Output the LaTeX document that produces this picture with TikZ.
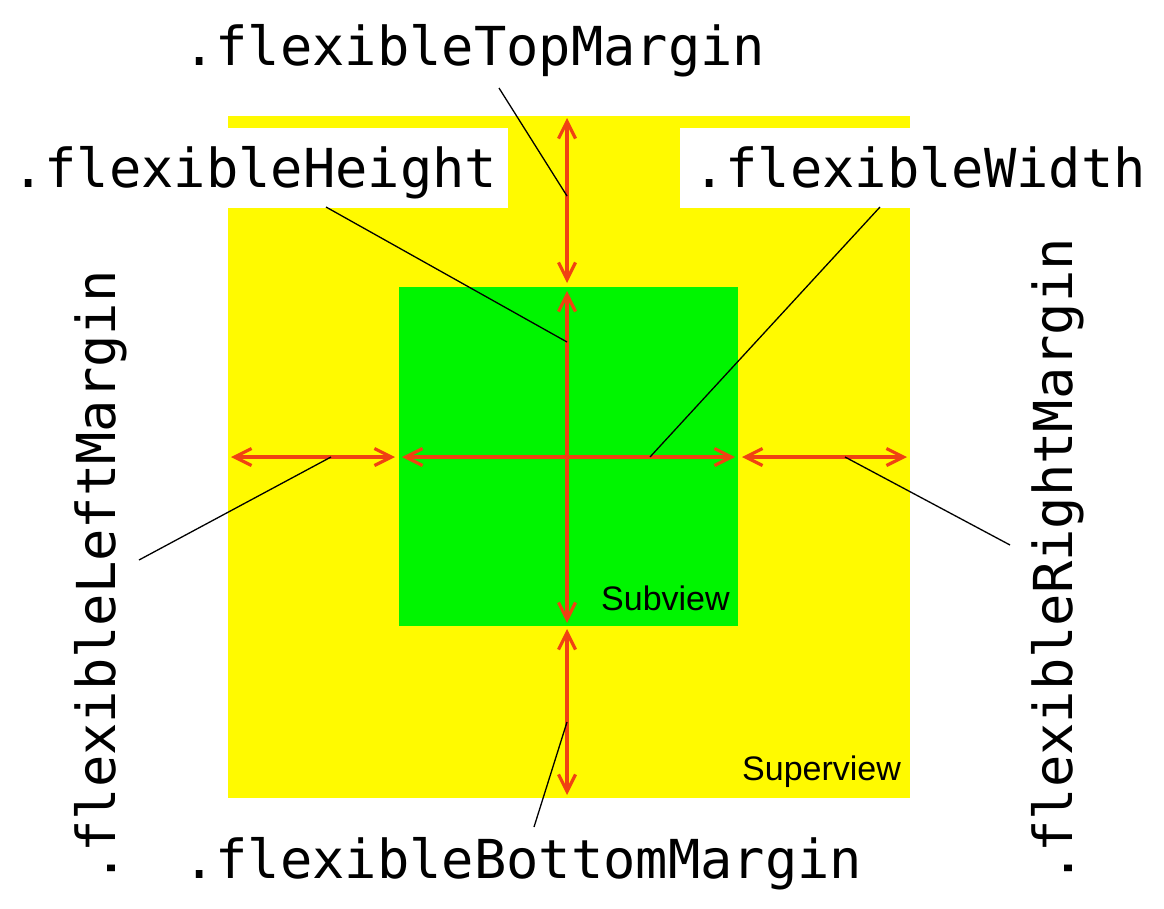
\documentclass[tikz,border=0pt]{standalone}
\usepackage{fontspec}
\setmonofont{DejaVu Sans Mono}
\newfontfamily\labelsans{Liberation Sans}
\usetikzlibrary{arrows.meta}
\definecolor{arrowred}{RGB}{240,66,18}
\definecolor{supyellow}{RGB}{255,250,0}
\definecolor{subgreen}{RGB}{0,245,0}
\tikzset{
  code/.style={inner sep=0pt, anchor=base west, font=\ttfamily\fontsize{53.7pt}{60pt}\selectfont},
  viewlabel/.style={inner sep=0pt, anchor=base west, font=\labelsans\fontsize{34pt}{40pt}\selectfont},
  dim/.style={draw=arrowred, line width=3.2pt, {Straight Barb[length=17pt,width=17pt,line width=3.2pt]}-{Straight Barb[length=17pt,width=17pt,line width=3.2pt]}},
  leader/.style={draw=black, line width=1.3pt}
}
\begin{document}
\begin{tikzpicture}[x=1pt,y=-1pt]
\useasboundingbox (0,0) rectangle (1164,908);
% views
\node[fill=supyellow, inner sep=0pt, outer sep=0pt, minimum width=682pt, minimum height=682pt, anchor=north west] (sup) at (228,116) {};
\fill[white] (0,128) rectangle (508,208);
\fill[white] (680,128) rectangle (940,208);
\node[fill=subgreen, inner sep=0pt, outer sep=0pt, minimum width=339pt, minimum height=339pt, anchor=north west] (sub) at (399,287) {};
\node[viewlabel] (subl) at (601,610) {Subview};
\node[viewlabel] (supl) at (742,780) {Superview};
% arrow end points
\coordinate (t1) at (567,118); \coordinate (t2) at (567,283);
\coordinate (h1) at (567,291); \coordinate (h2) at (567,623);
\coordinate (b1) at (567,629); \coordinate (b2) at (567,795);
\coordinate (l1) at (231,457); \coordinate (l2) at (395,457);
\coordinate (w1) at (402,457); \coordinate (w2) at (735,457);
\coordinate (r1) at (742,457); \coordinate (r2) at (907,457);
\draw[dim] (t1) -- (t2);
\draw[dim] (h1) -- (h2);
\draw[dim] (b1) -- (b2);
\draw[dim] (l1) -- (l2);
\draw[dim] (w1) -- (w2);
\draw[dim] (r1) -- (r2);
% labels
\node[code] (top) at (183,65) {.flexibleTopMargin};
\node[code] (hgt) at (12,187) {.flexibleHeight};
\node[code] (wid) at (693,187) {.flexibleWidth};
\node[code] (bot) at (183,878) {.flexibleBottomMargin};
\node[code, rotate=90] (lft) at (115,885) {.flexibleLeftMargin};
\node[code, rotate=90] (rgt) at (1072,885) {.flexibleRightMargin};
% leader line ends
\coordinate (topA) at (499,88);  \coordinate (topB) at (567,196);
\coordinate (hgtA) at (326,207); \coordinate (hgtB) at (567,342);
\coordinate (widA) at (880,207); \coordinate (widB) at (650,457);
\coordinate (botA) at (534,827); \coordinate (botB) at (567,722);
\coordinate (lftA) at (139,560); \coordinate (lftB) at (331,457);
\coordinate (rgtA) at (1010,545); \coordinate (rgtB) at (845,457);
\draw[leader] (topA) -- (topB);
\draw[leader] (hgtA) -- (hgtB);
\draw[leader] (widA) -- (widB);
\draw[leader] (botA) -- (botB);
\draw[leader] (lftA) -- (lftB);
\draw[leader] (rgtA) -- (rgtB);
\end{tikzpicture}
\end{document}
